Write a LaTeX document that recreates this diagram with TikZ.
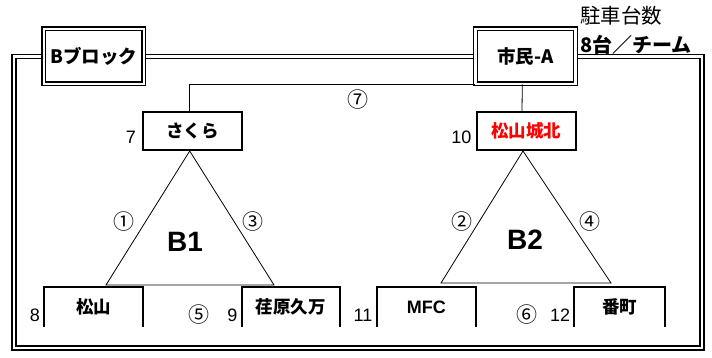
\documentclass[tikz,border=0pt]{standalone}
\usepackage{fontspec}
\setmainfont{Liberation Sans}
\newfontfamily\jp{Noto Sans CJK JP}
\usetikzlibrary{positioning}

\tikzstyle{block} = [rectangle, draw=black, fill=white, line width=1.4pt, double, double distance=2.4pt, minimum width=100pt, minimum height=55pt, inner sep=0pt, font=\jp\bfseries\fontsize{18.5}{18.5}\selectfont]
\tikzstyle{team} = [rectangle, draw=black, fill=white, line width=2pt, minimum width=99pt, minimum height=38pt, inner sep=0pt, font=\jp\bfseries\fontsize{17.5}{17.5}\selectfont]
\tikzstyle{open} = [rectangle, minimum width=99pt, minimum height=39pt, inner sep=0pt, font=\jp\bfseries\fontsize{17.5}{17.5}\selectfont]
\tikzstyle{num} = [font=\fontsize{18}{18}\selectfont, inner sep=0pt]
\tikzstyle{game} = [font=\jp\fontsize{21}{21}\selectfont, inner sep=0pt]
\tikzstyle{pool} = [font=\bfseries\fontsize{28}{28}\selectfont]
\tikzstyle{line} = [line width=0.8pt]
\tikzstyle{frame} = [line width=1.5pt, double, double distance=2.2pt]

\begin{document}
\begin{tikzpicture}[x=1pt, y=-1pt]
\useasboundingbox (0,0) rectangle (712,358);

\draw[frame] (14,56.5) rectangle (702,348);

\node (bblock) [block] at (93.7,56.3) {Bブロック};
\node (shimin) [block] at (525.3,56.3) {市民-A};

\node (parking) [anchor=west, inner sep=0pt, font=\jp\fontsize{20.5}{20.5}\selectfont] at (580,16) {駐車台数};
\node (quota) [anchor=west, inner sep=0pt, font=\jp\bfseries\fontsize{20}{20}\selectfont] at (580,45) {8台／チーム};

\node (sakura) [team] at (192.7,131) {さくら};
\node (joho) [team, text=red] at (526,131) {松山城北};

\node (matsu) [open] at (93.7,307) {松山};
\node (ebara) [open, minimum width=98pt] at (290.8,307) {荏原久万};
\node (mfc) [open, font=\bfseries\fontsize{18}{18}\selectfont] at (426.3,307) {MFC};
\node (bancho) [open, minimum width=90pt] at (619.5,307) {番町};

\foreach \n in {matsu, ebara, mfc, bancho}
  \draw[line width=2pt] (\n.south west) |- (\n.north east) -- (\n.south east);

% seed numbers
\node (s7) [num, left=6pt of sakura, yshift=-6pt] {7};
\node (s10) [num, left=4pt of joho, yshift=-6pt] {10};
\node (s8) [num, left=4pt of matsu, yshift=-8pt] {8};
\node (s9) [num, left=4pt of ebara, yshift=-8pt] {9};
\node (s11) [num, left=4pt of mfc, yshift=-8pt] {11};
\node (s12) [num, left=4pt of bancho, yshift=-8pt] {12};

% pools
\coordinate (b1l) at (106,285);
\coordinate (b1r) at (274,285);
\coordinate (b2l) at (441,283);
\coordinate (b2r) at (611,283);
\draw[line] ([xshift=-3pt]sakura.south) -- (b1l) -- (b1r) -- cycle;
\draw[line] ([xshift=-3pt]joho.south) -- (b2l) -- (b2r) -- cycle;
\node (pb1) [pool] at (185,242) {B1};
\node (pb2) [pool] at (525,240) {B2};

\draw[line] ([xshift=-3pt]sakura.north) |- (shimin.south west);
\draw[line] ([xshift=-3pt]shimin.south) -- ([xshift=-4pt]joho.north);

% game numbers
\node (g1) [game] at (124,222) {①};
\node (g2) [game] at (462,222) {②};
\node (g3) [game] at (253,222) {③};
\node (g4) [game] at (590,222) {④};
\node (g5) [game] at (199,315) {⑤};
\node (g6) [game] at (527,315) {⑥};
\node (g7) [game] at (358,100) {⑦};

\end{tikzpicture}
\end{document}
